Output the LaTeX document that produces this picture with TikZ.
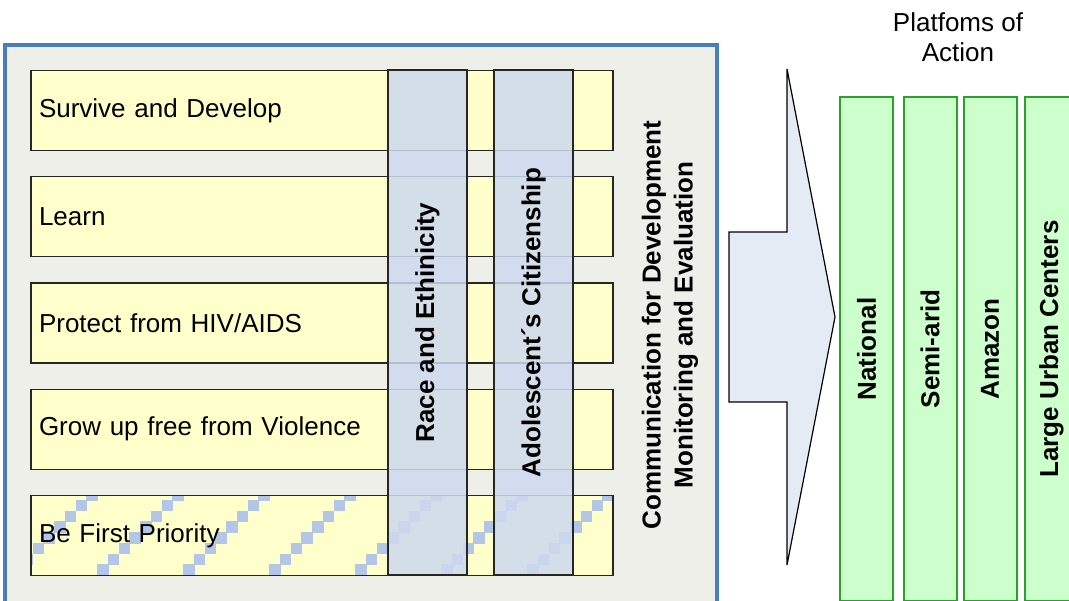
\documentclass[tikz,border=0pt]{standalone}
\usepackage{fontspec}
\setmainfont{Liberation Sans}
\usepackage{xcolor}
\usetikzlibrary{positioning}
\definecolor{agendagray}{HTML}{EFEFE9}
\definecolor{agendablue}{HTML}{4A7EBB}
\definecolor{agendayellow}{HTML}{FFFFCC}
\definecolor{agendahatch}{HTML}{B4C6E7}
\definecolor{agendasteel}{HTML}{CDD9EF}
\definecolor{agendaarrow}{HTML}{E4EBF5}
\definecolor{agendagreen}{HTML}{CCFFCC}
\definecolor{agendaedge}{HTML}{2CA02C}

\begin{document}
\begin{tikzpicture}[
  x=0.75pt, y=-0.75pt,
  every node/.style={font=\fontsize{19.5}{22.5}\selectfont},
  frame/.style={draw=agendablue, line width=2.3pt, fill=agendagray},
  goal/.style={draw=black!85, line width=1.1pt, fill=agendayellow,
               minimum height=60pt, text width=424.5pt, align=left,
               inner xsep=6pt},
  theme/.style={draw=black!85, line width=1.1pt, fill=agendasteel,
                fill opacity=0.85, text opacity=1, rotate=90,
                minimum width=378.75pt, minimum height=59.25pt,
                font=\fontsize{19.5}{22.5}\selectfont\bfseries},
  platform/.style={draw=agendaedge, line width=1.5pt, fill=agendagreen,
                   rotate=90, minimum width=378pt, minimum height=39.75pt,
                   font=\fontsize{19.5}{22.5}\selectfont\bfseries},
  bigarrow/.style={draw=black, line width=0.9pt, fill=agendaarrow}
]
\useasboundingbox (0,0) rectangle (1069,600);
\draw[frame] (5,45) rectangle (717,640);
\node[goal] (survive) at (322,110.5) {Survive and Develop};
\node[goal] (learn) at (322,216.75) {Learn};
\node[goal] (protect) at (322,323) {Protect from HIV/AIDS};
\node[goal] (violence) at (322,429.25) {Grow up free from Violence};
% stepped diagonal stripes under the last goal
\begin{scope}
  \clip (31,495.5) rectangle (613,575.5);
  \fill[agendayellow] (31,495.5) rectangle (613,575.5);
  \foreach \k in {-1,...,7}
    \foreach \i in {0,...,7}
      \fill[agendahatch] ({11.2+86*\k+10.75*\i},{575.8-10.75*\i})
        rectangle +(11.35,-11.35);
\end{scope}
\node[goal, fill=none] (priority) at (322,535.5) {Be First Priority};
\node[theme] (race) at (427.5,322.5) {Race and Ethinicity};
\node[theme] (citizen) at (533.5,322.5) {Adolescent´s Citizenship};
\node[rotate=90, align=center, font=\fontsize{19.5}{24}\selectfont\bfseries]
  (c4d) at (670,325) {Communication for Development\\Monitoring and Evaluation};
\draw[bigarrow] (729,232) -- (787,232) -- (787,69) -- (835,317)
  -- (787,565) -- (787,402) -- (729,402) -- cycle;
\node[align=center] (title) at (958,37) {Platfoms of\\Action};
\node[platform] (national) at (866.5,349) {National};
\node[platform] (semiarid) at (930,349) {Semi-arid};
\node[platform] (amazon) at (990,349) {Amazon};
\node[platform] (urban) at (1051.5,349) {Large Urban Centers};
\end{tikzpicture}
\end{document}
